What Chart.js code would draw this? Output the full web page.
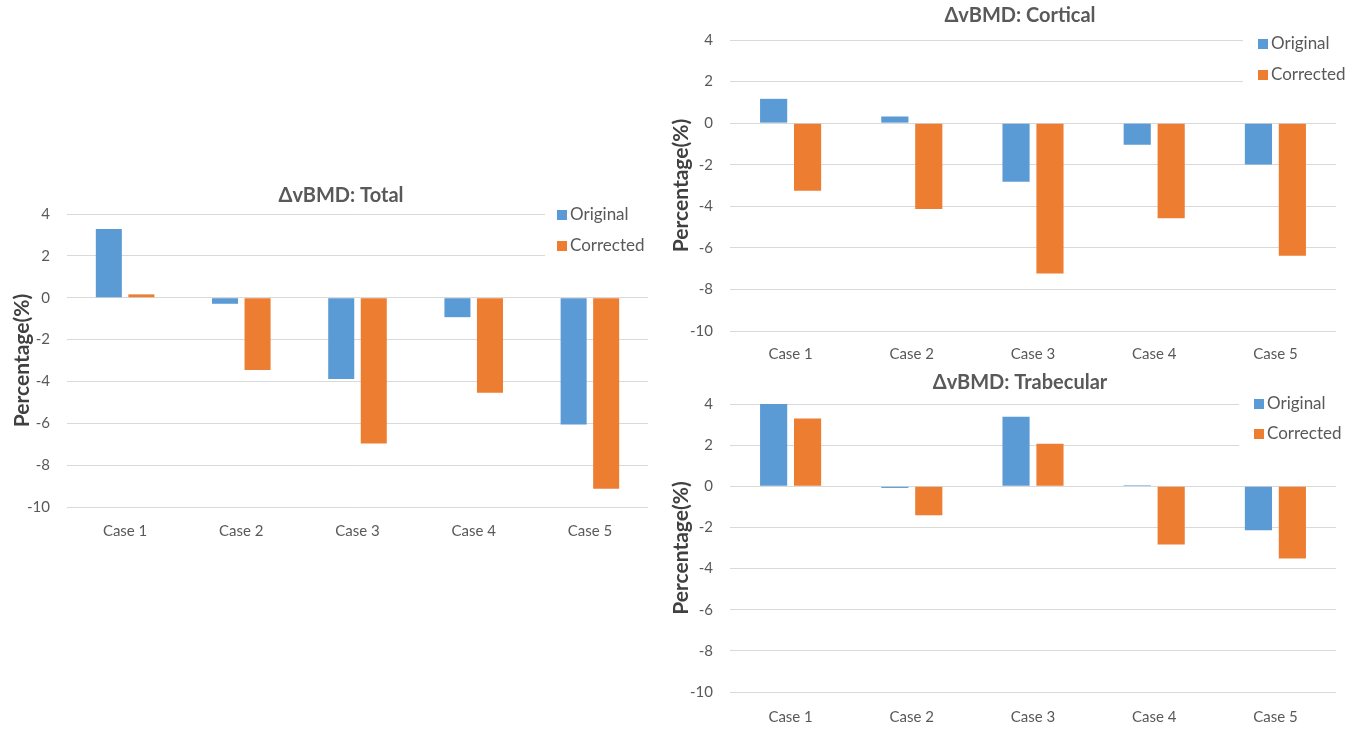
<!DOCTYPE html>
<html>
<head>
<meta charset="utf-8"/>
<title>ΔvBMD</title>
<script src="https://cdn.jsdelivr.net/npm/chart.js@4.4.0/dist/chart.umd.min.js"></script>
<style>
  body { margin: 0; background: #fff; overflow: hidden; }
  .box { position: absolute; }
</style>
</head>
<body>
<!-- canvases are a bit wider on the right so the titles sit where the original ones do -->
<div class="box" style="left:0px;top:180px"><canvas id="totalChart" width="682" height="370"></canvas></div>
<div class="box" style="left:660px;top:0px"><canvas id="corticalChart" width="720" height="370"></canvas></div>
<div class="box" style="left:660px;top:370px"><canvas id="trabecularChart" width="720" height="361"></canvas></div>

<script>
// categories and series
const cases = ["Case 1", "Case 2", "Case 3", "Case 4", "Case 5"];
const seriesNames = ["Original", "Corrected"];

const totalOriginal = [3.28, -0.29, -3.88, -0.93, -6.06];
const totalCorrected = [0.16, -3.45, -6.97, -4.54, -9.13];

const corticalOriginal = [1.17, 0.32, -2.82, -1.04, -1.99];
const corticalCorrected = [-3.25, -4.13, -7.23, -4.58, -6.38];

const trabecularOriginal = [4.0, -0.08, 3.38, 0.05, -2.14];
const trabecularCorrected = [3.3, -1.41, 2.07, -2.83, -3.51];

// y axis ticks
const yMin = -10, yMax = 4, yStep = 2;

const blue = "#5B9BD5";
const orange = "#ED7D31";
const grey = "#595959";
const fontName = "Lato, 'Open Sans', sans-serif";

// legend drawn inside the plot, top right, over the grid
const insideLegend = {
  id: "insideLegend",
  afterDraw(chart, args, opts) {
    const ctx = chart.ctx;
    ctx.save();
    ctx.fillStyle = "#fff";
    ctx.fillRect(opts.x - opts.clear, opts.y - 14, opts.w, opts.gap * 2 + 6);
    ctx.font = "17px " + fontName;
    ctx.textBaseline = "middle";
    chart.data.datasets.forEach((ds, i) => {
      const y = opts.y + i * opts.gap;
      ctx.fillStyle = ds.backgroundColor;
      ctx.fillRect(opts.x, y - 5, 10, 10);
      ctx.fillStyle = grey;
      ctx.fillText(ds.label, opts.x + 13, y);
    });
    ctx.restore();
  }
};

function makeChart(id, title, orig, corr, lay) {
  return new Chart(document.getElementById(id), {
    type: "bar",
    data: {
      labels: cases,
      datasets: [
        { label: seriesNames[0], data: orig, backgroundColor: blue },
        { label: seriesNames[1], data: corr, backgroundColor: orange }
      ]
    },
    plugins: [insideLegend],
    options: {
      responsive: false,
      animation: false,
      categoryPercentage: 0.56,
      barPercentage: 0.8,
      layout: { padding: 0 },
      plugins: {
        legend: { display: false },
        tooltip: { enabled: false },
        title: {
          display: true,
          text: title,
          color: grey,
          font: { family: fontName, size: 20, weight: "bold" },
          padding: { top: lay.titleTop, bottom: lay.titleBottom }
        },
        insideLegend: lay.legend
      },
      scales: {
        x: {
          grid: { display: false },
          border: { display: false },
          ticks: { color: grey, padding: lay.xPad, font: { family: fontName, size: 15 } },
          afterFit: s => { s.height = lay.xHeight; }
        },
        y: {
          min: yMin,
          max: yMax,
          ticks: { stepSize: yStep, color: grey, padding: lay.yPad, font: { family: fontName, size: 15 } },
          grid: { color: "#d9d9d9", drawTicks: false },
          border: { display: false },
          title: {
            display: true,
            text: "Percentage(%)",
            color: "#404040",
            font: { family: fontName, size: 21, weight: "bold" },
            padding: { top: lay.yTitle, bottom: 0 }
          },
          afterFit: s => { s.width = lay.plotLeft; }
        },
        // empty right-hand axis: keeps the plot narrower than the title row
        yRight: {
          position: "right",
          grid: { display: false },
          border: { display: false },
          ticks: { display: false },
          afterFit: s => { s.width = lay.right; }
        }
      }
    }
  });
}

makeChart("totalChart", "ΔvBMD: Total", totalOriginal, totalCorrected, {
  right: 34, plotLeft: 67, titleTop: 4, titleBottom: 6, xPad: 7, xHeight: 43,
  yPad: 17, yTitle: 10,
  legend: { x: 557, y: 35, gap: 31, w: 110, clear: 12 }
});

makeChart("corticalChart", "ΔvBMD: Cortical", corticalOriginal, corticalCorrected, {
  right: 44, plotLeft: 70, titleTop: 4, titleBottom: 12, xPad: 6, xHeight: 39,
  yPad: 17, yTitle: 9,
  legend: { x: 598, y: 44, gap: 31, w: 120, clear: 15 }
});

makeChart("trabecularChart", "ΔvBMD: Trabecular", trabecularOriginal, trabecularCorrected, {
  right: 44, plotLeft: 70, titleTop: 1, titleBottom: 9, xPad: 8, xHeight: 39,
  yPad: 17, yTitle: 9,
  legend: { x: 594, y: 34, gap: 30, w: 120, clear: 15 }
});
</script>
</body>
</html>
